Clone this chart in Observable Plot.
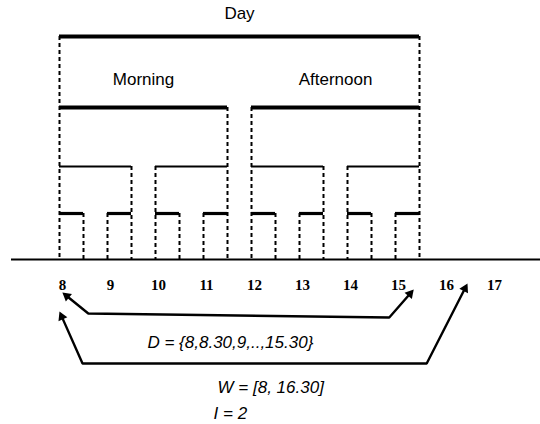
<!DOCTYPE html>
<html><head><meta charset="utf-8">
<script src="https://cdn.jsdelivr.net/npm/d3@7"></script>
<script src="https://cdn.jsdelivr.net/npm/@observablehq/plot@0.6"></script>
<style>html,body{margin:0;padding:0;background:#fff}#chart svg{display:block}</style>
</head><body><div id="chart"></div>
<script>
// ---------- data ----------
const D = [8, 8.5, 9, 9.5, 10, 10.5, 11, 11.5, 12, 12.5, 13, 13.5, 14, 14.5, 15, 15.5];
const W = [8, 16.5];
const hourTicks = [8, 9, 10, 11, 12, 13, 14, 15, 16, 17];
const dayLevel = [{name: "Day", start: 8, end: 15.5}];
const halfLevel = [{name: "Morning", start: 8, end: 11.5}, {name: "Afternoon", start: 12, end: 15.5}];
const pairLevel = [{start: 8, end: 9.5}, {start: 10, end: 11.5}, {start: 12, end: 13.5}, {start: 14, end: 15.5}];
const hourLevel = [{start: 8, end: 8.5}, {start: 9, end: 9.5}, {start: 10, end: 10.5}, {start: 11, end: 11.5},
                   {start: 12, end: 12.5}, {start: 13, end: 13.5}, {start: 14, end: 14.5}, {start: 15, end: 15.5}];
const setLabels = ["D = {8,8.30,9,..,15.30}", "W = [8, 16.30]", "I = 2"];

// ---------- layout ----------
const WIDTH = 540, HEIGHT = 424;
const xDomain = [8 - 59 / 48, 8 + 481 / 48];
const rows = {dayText: 13, day: 36, halfText: 79, half: 107, pair: 166, hour: 213, axis: 259, ticks: 285};
const levels = [
  {data: dayLevel, y: rows.day, sw: 4},
  {data: halfLevel, y: rows.half, sw: 4},
  {data: pairLevel, y: rows.pair, sw: 2.2},
  {data: hourLevel, y: rows.hour, sw: 3.2}
];
const arrowShapes = [
  {from: D[0], to: D[D.length - 1], tipDx: [0.06, -0.12], tipY: [292, 289], kneeDx: [0.6, -0.63], kneeY: [313, 317]},
  {from: W[0], to: W[1], tipDx: [0, 0], tipY: [311, 283], kneeDx: [0.48, -0.85], kneeY: [363, 363]}
];
const labelPos = [{x: 11.56, y: 342}, {x: 12.4, y: 387}, {x: 11.56, y: 413}];
const sans = "Liberation Sans, Arial, Helvetica, sans-serif";
const serif = "Liberation Serif, Times New Roman, serif";

const xs = Plot.scale({x: {domain: xDomain, range: [0, WIDTH]}});

// dashed verticals: each point of D from the highest level where it bounds an interval
const verticals = D.map(h => {
  const lv = levels.find(l => l.data.some(d => d.start === h || d.end === h));
  return {x: h, y1: lv.y, y2: rows.axis};
});

// arrow polylines and heads
const HEAD_R = 3.6;
const headBack = 2 * Math.sqrt(Math.PI * HEAD_R * HEAD_R / (Math.sqrt(3) * 3));
const arrowLines = [], heads = [];
arrowShapes.forEach((a, i) => {
  const tipL = {x: a.from + a.tipDx[0], y: a.tipY[0]};
  const kneeL = {x: a.from + a.kneeDx[0], y: a.kneeY[0]};
  const kneeR = {x: a.to + a.kneeDx[1], y: a.kneeY[1]};
  const tipR = {x: a.to + a.tipDx[1], y: a.tipY[1]};
  const pts = [];
  [[kneeL, tipL], [kneeR, tipR]].forEach(([k, t], j) => {
    const kx = xs.apply(k.x), tx = xs.apply(t.x);
    const dx = tx - kx, dy = t.y - k.y, len = Math.hypot(dx, dy);
    const cx = tx - dx / len * headBack, cy = t.y - dy / len * headBack;
    heads.push({x: xs.invert(cx), y: cy, angle: Math.atan2(dx, -dy) * 180 / Math.PI});
    pts[j] = {x: xs.invert(cx), y: cy};
  });
  [pts[0], kneeL, kneeR, pts[1]].forEach(p => arrowLines.push({...p, id: i}));
});

const chart = Plot.plot({
  width: WIDTH, height: HEIGHT, margin: 0,
  style: {background: "#fff"},
  x: {domain: xDomain, axis: null},
  y: {domain: [0, HEIGHT], range: [0, HEIGHT], axis: null},
  marks: [
    Plot.ruleX(verticals, {x: "x", y1: "y1", y2: "y2", stroke: "#000", strokeWidth: 2, strokeDasharray: "4,3"}),
    ...levels.map(l => Plot.ruleY(l.data, {y: () => l.y, x1: "start", x2: "end", stroke: "#000", strokeWidth: l.sw})),
    Plot.ruleY([rows.axis], {x1: 7, x2: 18.2, stroke: "#000", strokeWidth: 1.8}),
    Plot.text(dayLevel, {x: d => (d.start + d.end) / 2, y: () => rows.dayText, text: "name", fontFamily: sans, fontSize: 17, fill: "#000"}),
    Plot.text(halfLevel, {x: d => (d.start + d.end) / 2, y: () => rows.halfText, text: "name", fontFamily: sans, fontSize: 17, fill: "#000"}),
    Plot.text(hourTicks, {x: d => d, y: () => rows.ticks, text: d => String(d), dx: 3, fontFamily: serif, fontWeight: "bold", fontSize: 15, fill: "#000"}),
    Plot.line(arrowLines, {x: "x", y: "y", z: "id", stroke: "#000", strokeWidth: 2.4, strokeLinejoin: "miter"}),
    Plot.dot(heads, {x: "x", y: "y", symbol: "triangle", r: HEAD_R, rotate: "angle", fill: "#000", stroke: "none"}),
    Plot.text(setLabels, {x: (d, i) => labelPos[i].x, y: (d, i) => labelPos[i].y, text: d => d, fontFamily: sans, fontStyle: "italic", fontSize: 17, fill: "#000"})
  ]
});
document.getElementById("chart").appendChild(chart);
</script>
</body></html>
